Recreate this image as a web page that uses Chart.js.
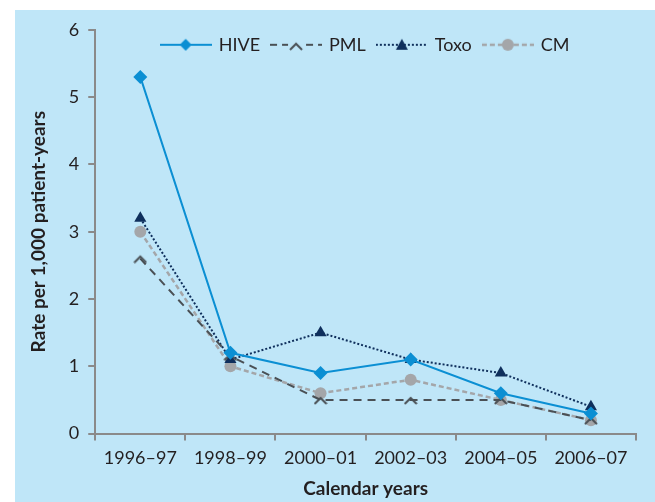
<!DOCTYPE html>
<html>
<head>
<meta charset="utf-8">
<script src="https://cdn.jsdelivr.net/npm/chart.js@4.4.1/dist/chart.umd.min.js"></script>
<style>
  html, body { margin: 0; padding: 0; background: #fff; }
  #wrap { position: absolute; left: 15px; top: 10px; width: 640px; height: 492px; background: #bfe6f8; }
</style>
</head>
<body>
<div id="wrap"><canvas id="chart" width="640" height="492"></canvas></div>
<script>
const categories = ['1996–97', '1998–99', '2000–01', '2002–03', '2004–05', '2006–07'];
const hive = [5.3, 1.2, 0.9, 1.1, 0.6, 0.3];
const pml = [2.6, 1.15, 0.5, 0.5, 0.5, 0.2];
const toxo = [3.2, 1.1, 1.5, 1.1, 0.9, 0.4];
const cm = [3.0, 1.0, 0.6, 0.8, 0.5, 0.2];
const yTicks = [0, 1, 2, 3, 4, 5, 6];

const FONT = 'Lato, "Open Sans", sans-serif';
const TEXT = '#231f20';

// caret marker for PML
function caretMarker(color) {
  const c = document.createElement('canvas');
  c.width = 14; c.height = 10;
  const g = c.getContext('2d');
  g.strokeStyle = color;
  g.lineWidth = 2;
  g.beginPath();
  g.moveTo(1, 9); g.lineTo(7, 3); g.lineTo(13, 9);
  g.stroke();
  return c;
}

// legend swatch: line + marker
function swatch(color, dash, width, drawMarker) {
  const c = document.createElement('canvas');
  c.width = 52; c.height = 16;
  const g = c.getContext('2d');
  g.strokeStyle = color;
  g.lineWidth = width;
  g.setLineDash(dash);
  g.beginPath();
  g.moveTo(0, 8); g.lineTo(52, 8);
  g.stroke();
  g.setLineDash([]);
  drawMarker(g, 26, 8);
  return c;
}

const pmlMarker = caretMarker('#4a5055');

const sw = {
  HIVE: swatch('#0b8fd3', [], 2, (g, x, y) => {
    g.fillStyle = '#0b8fd3';
    g.beginPath(); g.moveTo(x, y - 6); g.lineTo(x + 6, y); g.lineTo(x, y + 6); g.lineTo(x - 6, y); g.closePath(); g.fill();
  }),
  PML: swatch('#4a5055', [7, 5], 2, (g, x, y) => {
    g.clearRect(x - 8, y - 6, 16, 12);
    g.drawImage(pmlMarker, x - 7, y - 4);
  }),
  Toxo: swatch('#0f2f5c', [2, 2], 2, (g, x, y) => {
    g.fillStyle = '#0f2f5c';
    g.beginPath(); g.moveTo(x, y - 6); g.lineTo(x + 6, y + 5); g.lineTo(x - 6, y + 5); g.closePath(); g.fill();
  }),
  CM: swatch('#a4a6a9', [5, 3], 2.5, (g, x, y) => {
    g.fillStyle = '#a4a6a9';
    g.beginPath(); g.arc(x, y, 6, 0, Math.PI * 2); g.fill();
  })
};

// legend sits inside the plot area, so it takes no layout space
const legendInside = {
  id: 'legendInside',
  afterInit(chart) {
    const legend = chart.legend;
    const fit = legend.fit;
    legend.fit = function () { fit.call(this); this.height = 0; };
  },
  afterLayout(chart) {
    const legend = chart.legend, area = chart.chartArea;
    legend.left = area.left;
    legend.right = area.right;
    legend.width = area.right - area.left;
    legend.top = area.top - 6;
    legend.height = 44;
    legend.bottom = legend.top + 44;
  }
};

new Chart(document.getElementById('chart'), {
  type: 'line',
  data: {
    labels: categories,
    datasets: [
      { label: 'HIVE', data: hive, borderColor: '#0b8fd3', backgroundColor: '#0b8fd3', borderWidth: 2,
        pointStyle: 'rectRot', pointRadius: 7, pointBorderWidth: 0 },
      { label: 'PML', data: pml, borderColor: '#4a5055', backgroundColor: '#4a5055', borderWidth: 2, borderDash: [8, 6],
        pointStyle: pmlMarker, pointRadius: 6 },
      { label: 'Toxo', data: toxo, borderColor: '#0f2f5c', backgroundColor: '#0f2f5c', borderWidth: 2, borderDash: [2, 2],
        pointStyle: 'triangle', pointRadius: 7, pointBorderWidth: 0 },
      { label: 'CM', data: cm, borderColor: '#a4a6a9', backgroundColor: '#a4a6a9', borderWidth: 2.5, borderDash: [5, 3],
        pointStyle: 'circle', pointRadius: 6, pointBorderWidth: 0 }
    ]
  },
  plugins: [legendInside],
  options: {
    responsive: false,
    animation: false,
    layout: { padding: { top: 10, right: 19, bottom: 0, left: 8 } },
    plugins: {
      tooltip: { enabled: false },
      legend: {
        position: 'top',
        align: 'center',
        labels: {
          usePointStyle: true,
          pointStyleWidth: 48,
          padding: 12,
          color: TEXT,
          font: { family: FONT, size: 18 },
          generateLabels: chart => chart.data.datasets.map((ds, i) => ({
            text: ds.label,
            pointStyle: sw[ds.label],
            fillStyle: ds.borderColor,
            strokeStyle: ds.borderColor,
            lineWidth: 0,
            fontColor: TEXT,
            datasetIndex: i,
            hidden: false
          }))
        }
      }
    },
    scales: {
      x: {
        offset: true,
        grid: { offset: true, drawOnChartArea: false, color: '#8a8a8a', tickLength: 7, lineWidth: 2 },
        border: { color: '#8a8a8a', width: 2 },
        ticks: { color: TEXT, font: { family: FONT, size: 18 }, padding: 7, maxRotation: 0 },
        title: { display: true, text: 'Calendar years', color: TEXT, font: { family: FONT, size: 19, weight: 'bold' }, padding: { top: 1, bottom: 2 } }
      },
      y: {
        min: 0, max: 6,
        afterBuildTicks: axis => { axis.ticks = yTicks.map(v => ({ value: v })); },
        grid: { drawOnChartArea: false, color: '#8a8a8a', tickLength: 7, lineWidth: 2 },
        border: { color: '#8a8a8a', width: 2 },
        ticks: { color: TEXT, font: { family: FONT, size: 18 }, padding: 9 },
        title: { display: true, text: 'Rate per 1,000 patient-years', color: TEXT, font: { family: FONT, size: 19, weight: 'bold' }, padding: { bottom: 10 } }
      }
    }
  }
});
</script>
</body>
</html>
